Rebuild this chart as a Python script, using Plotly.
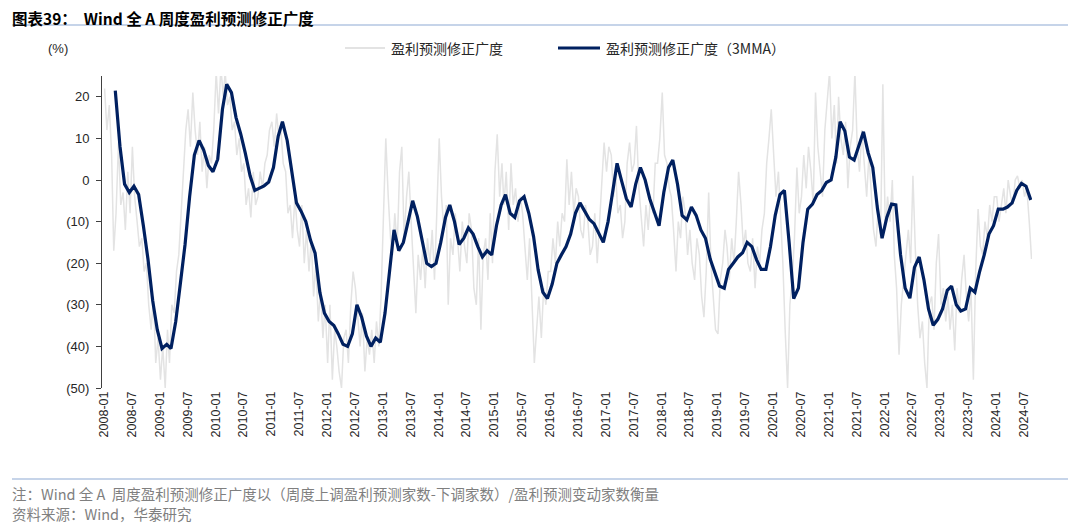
import pandas as pd
import plotly.graph_objects as go

gray_values = [
    22, 12, 18, 6, -17, -8, 9, -6, -3, -12, 2, -8, 8, -4, -10, -16, -14, -22, -20, -30, -36, -28, -44, -38,
    -48, -40, -50, -36, -44, -30, -32, -22, -18, -8, 2, 12, 17, 8, 21, 12, 6, 14, 2, 8, -2, 6, 4, 12,
    26, 16, 27, 20, 26, 18, 20, 12, 14, 6, 10, 2, 4, -6, -2, -9, 2, -6, -4, 2, -2, 4, 6, 12,
    14, 8, 16, 10, 12, 4, 2, -8, -6, -14, -4, -12, -16, -6, -20, -12, -22, -14, -28, -20, -34, -26, -38, -30,
    -44, -30, -48, -36, -40, -46, -50, -38, -36, -44, -30, -22, -26, -34, -40, -32, -46, -38, -42, -36, -44, -34, -40, -28,
    -10, 10, -4, -14, -18, -8, -16, 2, 8, -14, -4, 2, -10, -22, -32, -18, -24, -16, -26, -14, -20, -12, -24, -8,
    10, -4, -12, -6, -30, -14, -18, -8, -14, -22, -10, -16, -20, -8, -12, -26, -30, -14, -36, -18, -14, -24, -8, -20,
    2, 11, -4, 4, -6, 2, -12, 4, -6, -2, -10, -4, -8, -16, -24, -14, -30, -44, -36, -28, -38, -26, -30, -22,
    -22, -14, -20, -10, -16, -8, -10, 5, -6, 2, -8, -2, -4, -12, -14, -6, -10, -18, -16, -8, -20, -10, 2, 9,
    2, 8, 6, -4, 2, -8, -6, -14, -10, 4, 9, 2, 4, 13, -2, -10, -16, -6, -12, -4, -8, 4, 4, 10,
    21, 6, 4, -2, -4, -12, -22, -10, -14, -4, -8, -18, -12, -20, -24, -14, -18, -28, -33, -22, -3, -20, -28, -36,
    -37, -24, -20, -12, -16, -24, -14, -20, -10, 2, -6, -16, -12, -20, -22, -14, -26, -16, -20, -12, -8, 4, 10, 17,
    6, -4, 2, -10, -20, -36, -50, -30, -24, -14, 3, -8, -4, 6, -2, 8, 2, -6, 21, 8, 2, -4, 12, 20,
    26, 10, 18, 4, 20, 10, 6, 14, -2, 8, 12, 26, 8, 2, 12, 4, -4, 6, -4, -12, -16, -6, -14, 23,
    -12, -4, -10, 0, -18, -26, -42, -30, -24, -18, -12, -20, 1, -16, -30, -38, -34, -44, -50, -30, -28, -36, -20, -13,
    -30, -26, -34, -28, -36, -30, -41, -26, -32, -24, -18, -28, -34, -26, -48, -22, -7, -16, -18, -10, -14, -6, -10, -4,
    -4, -10, -6, -2, -8, 0, -4, -6, 0, 1, -2, 0, -4, -2, -10, -19,
]

# 3MMA, one reading a month (2008-03 .. 2024-08)
mma_values = [
    21.5, 8, -1, -3, -1.5, -3.5, -11, -19, -29, -36,
    -40.5, -39.5, -40.5, -34, -25, -15.5, -4, 6, 9.5, 7.2, 3.5, 2,
    5, 17, 23, 21, 15, 11, 6.4, 1, -2.5, -2, -1.4, -0.5,
    3, 10.5, 14, 9.5, 1.5, -5.5, -7.5, -10, -14.5, -17.6, -27, -32,
    -34, -35, -37, -39.5, -40, -37, -30, -33, -37.5, -40, -38, -39,
    -32, -22, -12, -17, -15, -10, -5, -8.8, -15, -20, -20.8, -20,
    -15, -9, -6, -10, -15.5, -14, -11.5, -13, -16, -18.5, -17, -18,
    -11, -6, -3.5, -8, -9, -5, -4, -8, -13.6, -21.6, -27, -28.5,
    -25, -20, -18, -16, -13, -8, -5.5, -7.5, -9.5, -10.5, -13, -15,
    -10, -2, 4, -0.4, -4.5, -6.5, -1, 3, 0, -4.5, -8, -11,
    -3, 3, 4.8, -1, -8.5, -9.6, -6.5, -8.5, -12, -14, -19, -22,
    -25.5, -26, -21.5, -20, -18.5, -17.5, -15, -16, -19.2, -21.5, -21.5, -16,
    -8.5, -3.5, -2.5, -15, -28.5, -26, -15, -7, -5.8, -3.5, -2.5, -0.6,
    0, 5.5, 14, 11.8, 5.5, 4.8, 8, 11.6, 6.5, 3, -7, -14,
    -9, -5.8, -6, -18, -26, -28.4, -21, -18.5, -24, -31, -34.9, -33.5,
    -31, -26.5, -25.5, -30, -31.5, -31, -26, -27, -22, -18, -13, -11,
    -7, -7, -6.5, -5.5, -2.5, -0.8, -1.5, -4.8,
]

y_ticks = [20, 10, 0, -10, -20, -30, -40, -50]
y_labels = ["20", "10", "0", "(10)", "(20)", "(30)", "(40)", "(50)"]

series_names = ["盈利预测修正广度", "盈利预测修正广度（3MMA）"]
series_colors = ["#E3E3E3", "#002060"]

months = pd.date_range("2008-01-01", periods=len(gray_values) // 2, freq="MS")
gray_dates = []
for m in months:
    gray_dates += [m + pd.Timedelta(days=4), m + pd.Timedelta(days=19)]
mma_dates = pd.date_range("2008-03-01", periods=len(mma_values), freq="MS") + pd.Timedelta(days=14)

x_ticks = pd.date_range("2008-01-01", "2024-07-01", freq="6MS")
x_labels = [d.strftime("%Y-%m") for d in x_ticks]

FONT = "Liberation Sans, Noto Sans CJK SC, sans-serif"
CJK = "Noto Sans CJK SC, Liberation Sans, sans-serif"
X_RANGE = ["2007-12-19", "2024-08-23"]

# the page has an 8px body margin: the figure starts at (8, 8), so size it 8px smaller
PX, PY, PW, PH = 102, 76, 930, 312  # plot area in page pixels
W, H = 1072, 519


def px(x):
    return (x - PX) / PW


def py(y):
    return (PY + PH - y) / PH


fig = go.Figure()
fig.add_trace(go.Scatter(x=gray_dates, y=gray_values, mode="lines", name=series_names[0],
                         line=dict(color=series_colors[0], width=1.5)))
fig.add_trace(go.Scatter(x=mma_dates, y=mma_values, mode="lines", name=series_names[1],
                         line=dict(color=series_colors[1], width=3.2)))

fig.update_layout(
    width=W, height=H,
    margin=dict(l=PX - 8, r=W - (PX - 8) - PW, t=PY - 8, b=H - (PY - 8) - PH, autoexpand=False),
    paper_bgcolor="white", plot_bgcolor="white",
    font=dict(family=FONT, size=13, color="#262626"),
    showlegend=False,
    xaxis=dict(type="date", range=X_RANGE, tickvals=x_ticks, ticktext=x_labels,
               tickangle=-90, showline=False, showgrid=False, zeroline=False, ticks="",
               tickfont=dict(size=12.5, color="#262626"), automargin=False),
    xaxis2=dict(type="date", range=X_RANGE, overlaying="x", anchor="free", position=50 / 75,
                tickvals=x_ticks, showticklabels=False, showline=True, linecolor="#404040",
                linewidth=1, ticks="outside", ticklen=4, tickcolor="#404040",
                showgrid=False, zeroline=False),
    yaxis=dict(range=[-50, 25], tickvals=y_ticks, ticktext=y_labels, showline=True,
               linecolor="#404040", linewidth=1, ticks="outside", ticklen=5, tickcolor="#404040",
               showgrid=False, zeroline=False, ticklabelstandoff=4, automargin=False),
)

# legend drawn by hand (longer line keys than plotly's)
for (x0, x1), name, color, w in zip([(345, 385), (558, 600)], series_names, series_colors, [2, 3.2]):
    fig.add_shape(type="line", xref="paper", yref="paper", x0=px(x0), x1=px(x1), y0=py(48), y1=py(48),
                  line=dict(color=color, width=w))
    fig.add_annotation(text=name, xref="paper", yref="paper", x=px(x1 + 4), y=py(48),
                       xanchor="left", yanchor="middle", showarrow=False,
                       font=dict(family=CJK, size=14, color="#262626"))

fig.add_annotation(text="<b>图表39：  Wind 全 A 周度盈利预测修正广度</b>", xref="paper", yref="paper",
                   x=px(10), y=py(17.5), xanchor="left", yanchor="middle",
                   showarrow=False, font=dict(family=CJK, size=15.5, color="#000000"))
fig.add_annotation(text="(%)", xref="paper", yref="paper", x=px(58), y=py(48),
                   xanchor="center", yanchor="middle", showarrow=False, font=dict(size=13))
fig.add_annotation(text="注：Wind 全 A  周度盈利预测修正广度以（周度上调盈利预测家数-下调家数）/盈利预测变动家数衡量",
                   xref="paper", yref="paper", x=px(10), y=py(493),
                   xanchor="left", yanchor="middle", showarrow=False,
                   font=dict(family=CJK, size=14.5, color="#7F7F7F"))
fig.add_annotation(text="资料来源：Wind，华泰研究", xref="paper", yref="paper",
                   x=px(10), y=py(513), xanchor="left", yanchor="middle",
                   showarrow=False, font=dict(family=CJK, size=14.5, color="#7F7F7F"))

for yy in (25, 479):
    fig.add_shape(type="line", xref="paper", yref="paper", x0=px(12), x1=px(1068),
                  y0=py(yy), y1=py(yy), line=dict(color="#8DA9D4", width=1.2))

fig.write_html("out.html")
